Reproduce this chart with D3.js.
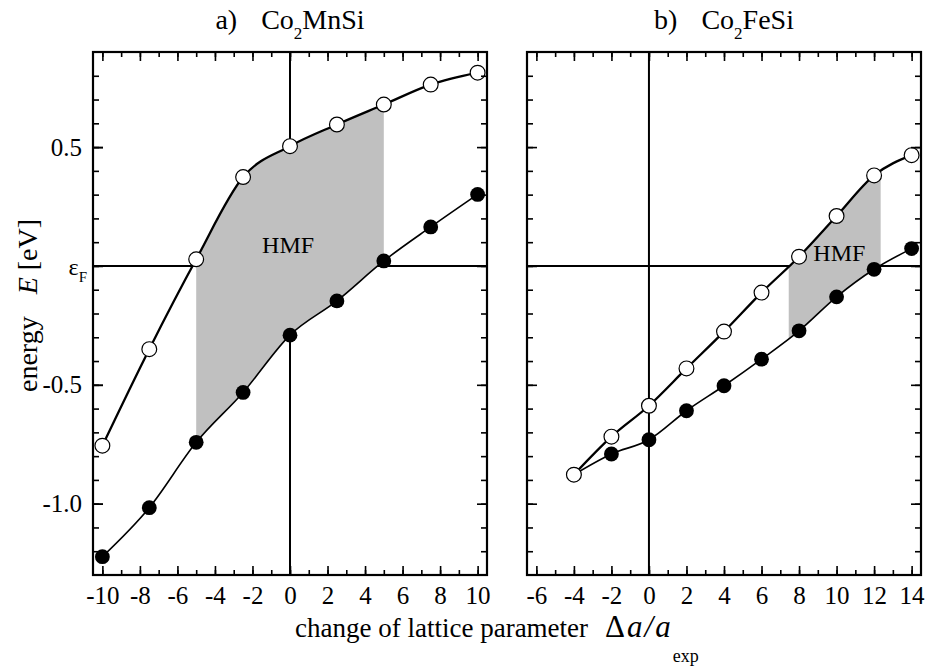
<!DOCTYPE html>
<html>
<head>
<meta charset="utf-8">
<script src="https://cdn.jsdelivr.net/npm/d3@7"></script>
<style>
  body { margin: 0; background: #fff; }
  text { font-family: "Liberation Serif", "Times New Roman", serif; fill: #000; }
</style>
</head>
<body>
<div id="chart"></div>
<script>
// panel a) Co2MnSi
var xA = [-10, -7.5, -5, -2.5, 0, 2.5, 5, 7.5, 10];
var openA = [-0.756, -0.35, 0.028, 0.374, 0.504, 0.595, 0.679, 0.763, 0.813];
var fullA = [-1.223, -1.017, -0.742, -0.532, -0.291, -0.147, 0.021, 0.164, 0.301];
var hmfA = [-5, 5];
var hmfLabelA = [-0.1, 0.053];

// panel b) Co2FeSi
var xB = [-4, -2, 0, 2, 4, 6, 8, 10, 12, 14];
var openB = [-0.878, -0.718, -0.588, -0.431, -0.276, -0.112, 0.039, 0.21, 0.381, 0.466];
var fullB = [-0.878, -0.791, -0.731, -0.609, -0.504, -0.392, -0.273, -0.13, -0.014, 0.073];
var hmfB = [7.45, 12.35];
var hmfLabelB = [10.15, 0.02];

var xTicksA = [-10, -8, -6, -4, -2, 0, 2, 4, 6, 8, 10];
var xTicksB = [-6, -4, -2, 0, 2, 4, 6, 8, 10, 12, 14];
var yTicks = [-1.0, -0.5, 0.5];

var width = 926, height = 667;
var plotTop = 52, plotBottom = 575;

var svg = d3.select("#chart").append("svg")
    .attr("width", width)
    .attr("height", height);

var y = d3.scaleLinear().domain([-1.3, 0.9]).range([plotBottom, plotTop]);

function range(a, b, step) {
    var out = [];
    for (var v = a; v <= b + 1e-9; v += step) out.push(Math.round(v * 10) / 10);
    return out;
}

function panel(id, x, xs, open, full, hmf, hmfLabel, xTicks, showYLabels) {
    var g = svg.append("g").attr("id", id);
    var left = x.range()[0], right = x.range()[1];

    // zero lines
    g.append("line").attr("x1", x(0)).attr("x2", x(0)).attr("y1", plotTop).attr("y2", plotBottom)
        .attr("stroke", "#000").attr("stroke-width", 2);
    g.append("line").attr("x1", left).attr("x2", right).attr("y1", y(0)).attr("y2", y(0))
        .attr("stroke", "#000").attr("stroke-width", 2);

    var pts = xs.map(function(d, i) { return {x: d, up: open[i], lo: full[i]}; });

    // half-metallic region between the two band edges
    g.append("clipPath").attr("id", id + "_clip")
        .append("rect")
        .attr("x", x(hmf[0])).attr("y", plotTop)
        .attr("width", x(hmf[1]) - x(hmf[0])).attr("height", plotBottom - plotTop);

    var area = d3.area()
        .x(function(d) { return x(d.x); })
        .y0(function(d) { return y(d.lo); })
        .y1(function(d) { return y(d.up); })
        .curve(d3.curveMonotoneX);

    g.append("path").datum(pts)
        .attr("d", area)
        .attr("fill", "#c0c0c0")
        .attr("clip-path", "url(#" + id + "_clip)");

    var lineLo = d3.line().x(function(d) { return x(d.x); }).y(function(d) { return y(d.lo); })
        .curve(d3.curveMonotoneX);
    var lineUp = d3.line().x(function(d) { return x(d.x); }).y(function(d) { return y(d.up); })
        .curve(d3.curveMonotoneX);

    g.append("path").datum(pts).attr("d", lineLo)
        .attr("fill", "none").attr("stroke", "#000").attr("stroke-width", 1.6);
    g.append("path").datum(pts).attr("d", lineUp)
        .attr("fill", "none").attr("stroke", "#000").attr("stroke-width", 2.3);

    g.selectAll(".full").data(pts).enter().append("circle")
        .attr("class", "full")
        .attr("cx", function(d) { return x(d.x); })
        .attr("cy", function(d) { return y(d.lo); })
        .attr("r", 7.4)
        .attr("fill", "#000");

    g.selectAll(".open").data(pts).enter().append("circle")
        .attr("class", "open")
        .attr("cx", function(d) { return x(d.x); })
        .attr("cy", function(d) { return y(d.up); })
        .attr("r", 7.4)
        .attr("fill", "#fff")
        .attr("stroke", "#000")
        .attr("stroke-width", 1.2);

    g.append("text")
        .attr("x", x(hmfLabel[0]))
        .attr("y", y(hmfLabel[1]))
        .attr("text-anchor", "middle")
        .style("font-size", "24px")
        .text("HMF");

    // axes, ticks pointing inward on all sides
    var dom = x.domain();
    var minorX = range(Math.ceil(dom[0]), Math.floor(dom[1]), 1);
    var minorY = range(-1.2, 0.8, 0.1);
    var majorY = [-1.0, -0.5, 0, 0.5];

    function addAxis(axis, tr) {
        var a = g.append("g").attr("transform", tr).call(axis);
        a.select(".domain").remove();
        a.selectAll("line").attr("stroke-width", 1.6);
        a.selectAll("text").style("font-size", "25px")
            .style("font-family", "'Liberation Serif', 'Times New Roman', serif");
        return a;
    }

    addAxis(d3.axisBottom(x).tickValues(xTicks).tickSize(-9).tickPadding(11)
        .tickFormat(function(d) { return String(d); }), "translate(0," + plotBottom + ")");
    addAxis(d3.axisBottom(x).tickValues(minorX).tickSize(-5).tickFormat(""), "translate(0," + plotBottom + ")");
    addAxis(d3.axisTop(x).tickValues(xTicks).tickSize(-9).tickFormat(""), "translate(0," + plotTop + ")");
    addAxis(d3.axisTop(x).tickValues(minorX).tickSize(-5).tickFormat(""), "translate(0," + plotTop + ")");

    addAxis(d3.axisLeft(y).tickValues(showYLabels ? yTicks : []).tickSize(-10).tickPadding(11)
        .tickFormat(function(d) { return d.toFixed(1); }), "translate(" + left + ",0)");
    addAxis(d3.axisLeft(y).tickValues(majorY).tickSize(-10).tickFormat(""), "translate(" + left + ",0)");
    addAxis(d3.axisLeft(y).tickValues(minorY).tickSize(-6).tickFormat(""), "translate(" + left + ",0)");
    addAxis(d3.axisRight(y).tickValues(majorY).tickSize(-10).tickFormat(""), "translate(" + right + ",0)");
    addAxis(d3.axisRight(y).tickValues(minorY).tickSize(-6).tickFormat(""), "translate(" + right + ",0)");

    // frame
    g.append("rect")
        .attr("x", left).attr("y", plotTop)
        .attr("width", right - left).attr("height", plotBottom - plotTop)
        .attr("fill", "none").attr("stroke", "#000").attr("stroke-width", 2.2);

    return g;
}

var xScaleA = d3.scaleLinear().domain([-10.5, 10.5]).range([93, 487]);
var xScaleB = d3.scaleLinear().domain([-6.5, 14.5]).range([527, 921]);

panel("pa", xScaleA, xA, openA, fullA, hmfA, hmfLabelA, xTicksA, true);
panel("pb", xScaleB, xB, openB, fullB, hmfB, hmfLabelB, xTicksB, false);

// panel titles
function title(cx, letter, rest) {
    var t = svg.append("text")
        .attr("x", cx).attr("y", 29)
        .attr("text-anchor", "middle")
        .style("font-size", "28px");
    t.append("tspan").text(letter);
    t.append("tspan").attr("dx", 24).text("Co");
    t.append("tspan").attr("dy", 10).style("font-size", "17px").text("2");
    t.append("tspan").attr("dy", -10).text(rest);
}
title(290, "a)", "MnSi");
title(724, "b)", "FeSi");

// Fermi level label
var ef = svg.append("text").attr("x", 87).attr("y", 275)
    .attr("text-anchor", "end").style("font-size", "24px");
ef.append("tspan").text("\u03b5");
ef.append("tspan").attr("dy", 7).style("font-size", "15px").text("F");

// y axis label
var yl = svg.append("text")
    .attr("transform", "translate(37,392) rotate(-90)")
    .style("font-size", "28px");
yl.append("tspan").text("energy");
yl.append("tspan").attr("dx", 22).style("font-style", "italic").text("E");
yl.append("tspan").text(" [eV]");

// x axis label
var xl = svg.append("text").attr("x", 295).attr("y", 637)
    .style("font-size", "27px");
xl.append("tspan").text("change of lattice parameter");
xl.append("tspan").attr("dx", 17).style("font-size", "31px").style("letter-spacing", "2px").text("\u0394");
xl.append("tspan").style("font-style", "italic").style("font-size", "31px").style("letter-spacing", "2px").text("a/a");
xl.append("tspan").attr("dy", 25).style("font-size", "18px").text("exp");
</script>
</body>
</html>
